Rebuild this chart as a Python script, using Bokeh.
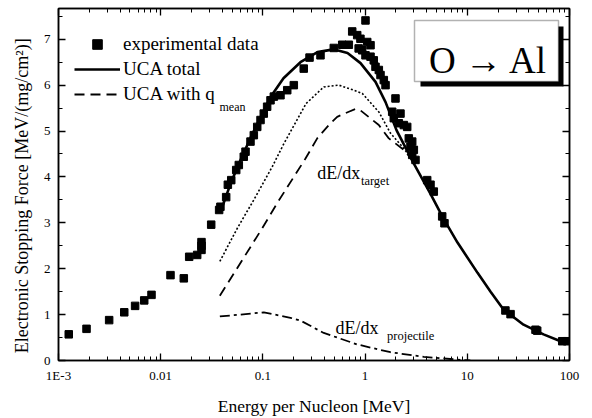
import math
from bokeh.plotting import figure
from bokeh.models import (Range1d, LinearAxis, LogAxis, FixedTicker, SingleIntervalTicker,
                          CustomJSTickFormatter, Legend, LegendItem, Label, BoxAnnotation)
from bokeh.embed import file_html
from bokeh.resources import INLINE

# ---------------- data ----------------
exp_energy = [0.00126, 0.00188, 0.00313, 0.0044, 0.00562, 0.0069, 0.00813, 0.01247, 0.01683, 0.019,
              0.02275, 0.02507, 0.0251, 0.02507, 0.0312, 0.0373, 0.0384, 0.0437, 0.0454, 0.049,
              0.0548, 0.0581, 0.065, 0.0676, 0.0756, 0.0815, 0.088, 0.0948, 0.102, 0.110,
              0.1187, 0.128, 0.1486, 0.173, 0.2006, 0.251, 0.286, 0.366, 0.494, 0.597,
              0.693, 0.748, 0.837, 1.009, 0.90, 0.865, 0.937, 1.049, 1.13, 1.009,
              1.13, 1.216, 1.264, 1.362, 1.415, 1.524, 1.585, 1.983, 1.841, 2.219,
              1.909, 2.137, 2.393, 2.582, 2.677, 2.89, 2.78, 2.998, 2.89, 3.112,
              4.05, 4.365, 4.70, 5.68, 5.98, 23.6, 26.5, 46.5, 48.3, 84.9, 94.9]
exp_stopping = [0.57, 0.69, 0.88, 1.05, 1.19, 1.31, 1.43, 1.86, 1.79, 2.26,
                2.30, 2.41, 2.50, 2.58, 2.96, 3.28, 3.35, 3.56, 3.83, 3.93,
                4.15, 4.26, 4.44, 4.55, 4.77, 4.91, 5.09, 5.24, 5.38, 5.53,
                5.67, 5.75, 5.78, 5.89, 6.00, 6.36, 6.60, 6.65, 6.81, 6.88,
                6.88, 7.17, 7.09, 7.41, 7.01, 6.80, 6.76, 6.94, 6.87, 6.65,
                6.62, 6.54, 6.40, 6.33, 6.22, 6.11, 6.00, 5.71, 5.42, 5.38,
                5.28, 5.17, 5.13, 5.09, 4.84, 4.77, 4.66, 4.59, 4.48, 4.37,
                3.93, 3.83, 3.68, 3.14, 2.99, 1.09, 1.01, 0.67, 0.65, 0.42, 0.42]

uca_total_energy = [0.0385, 0.0482, 0.0604, 0.0756, 0.0948, 0.1187, 0.159, 0.233, 0.342, 0.491,
                    0.673, 0.902, 1.264, 1.585, 2.028, 2.98, 4.365, 5.85, 8.02, 12.6,
                    16.9, 22.6, 35.5, 55.7, 81.7, 100.0]
uca_total_stopping = [3.24, 3.85, 4.37, 4.85, 5.30, 5.74, 6.15, 6.50, 6.72, 6.78,
                      6.70, 6.48, 6.07, 5.63, 5.02, 4.30, 3.63, 3.09, 2.57, 1.91,
                      1.50, 1.11, 0.78, 0.57, 0.42, 0.37]

dotted_energy = [0.0379, 0.0561, 0.0815, 0.1233, 0.160, 0.265, 0.394, 0.553, 0.775, 0.937,
                 1.37, 1.774, 2.393, 3.11]
dotted_stopping = [2.16, 2.88, 3.50, 4.22, 4.72, 5.60, 5.96, 6.00, 5.89, 5.82,
                   5.41, 4.95, 4.62, 4.28]

qmean_energy = [0.0379, 0.0984, 0.138, 0.261, 0.340, 0.442, 0.533, 0.693, 0.805, 0.90,
                1.362, 1.706, 2.39, 3.11]
qmean_stopping = [1.41, 2.88, 3.43, 4.40, 4.84, 5.13, 5.31, 5.42, 5.48, 5.45,
                  5.13, 4.84, 4.59, 4.28]

proj_energy = [0.0379, 0.0604, 0.102, 0.186, 0.233, 0.394, 0.837, 1.774, 3.75, 7.96, 10.7]
proj_stopping = [0.96, 1.00, 1.05, 0.93, 0.87, 0.60, 0.35, 0.18, 0.08, 0.02, 0.0]

x_ticks = [0.001, 0.01, 0.1, 1, 10, 100]
x_tick_labels = ["1E-3", "0.01", "0.1", "1", "10", "100"]
x_minor_ticks = [k * d for d in [0.001, 0.01, 0.1, 1, 10] for k in range(2, 10)]

FONT = "Liberation Serif"

# ---------------- figure ----------------
p = figure(width=592, height=418, x_axis_type="log",
           x_range=Range1d(1e-3, 100), y_range=Range1d(0, 7.67),
           output_backend="svg", toolbar_location=None,
           min_border_left=58, min_border_right=23, min_border_top=8, min_border_bottom=57,
           background_fill_color="white", border_fill_color="white")
p.xgrid.visible = False
p.ygrid.visible = False
p.outline_line_color = "black"
p.outline_line_width = 1.5

blank = CustomJSTickFormatter(code="return '';")


def style_axis(ax, show_labels=True):
    ax.axis_line_color = "black"
    ax.axis_line_width = 1.5
    ax.major_tick_in = 7
    ax.major_tick_out = 0
    ax.minor_tick_in = 4
    ax.minor_tick_out = 0
    ax.major_tick_line_color = "black"
    ax.minor_tick_line_color = "black"
    ax.major_tick_line_width = 1.3
    ax.minor_tick_line_width = 1.0
    ax.major_label_text_font = FONT
    ax.major_label_text_color = "black"
    ax.major_label_text_font_size = "13px"
    if not show_labels:
        ax.formatter = blank
        ax.major_label_standoff = 0
        ax.major_label_text_font_size = "1px"


xformatter = CustomJSTickFormatter(
    args=dict(tvals=x_ticks, tlabs=x_tick_labels),
    code="""
    for (let i = 0; i < tvals.length; i++) {
        if (Math.abs(Math.log10(tvals[i]) - Math.log10(tick)) < 1e-6) return tlabs[i];
    }
    return '';
    """)

xa = p.xaxis[0]
xa.ticker = FixedTicker(ticks=x_ticks, minor_ticks=x_minor_ticks)
xa.formatter = xformatter
style_axis(xa)
xa.major_label_standoff = 7
xa.axis_label = "Energy per Nucleon [MeV]"
xa.axis_label_text_font = FONT
xa.axis_label_text_font_size = "17.5px"
xa.axis_label_text_font_style = "normal"
xa.axis_label_text_color = "black"
xa.axis_label_standoff = 10

ya = p.yaxis[0]
ya.ticker = SingleIntervalTicker(interval=1, num_minor_ticks=2)
style_axis(ya)
ya.major_label_standoff = 8
ya.axis_label = "Electronic Stopping Force [MeV/(mg/cm\u00b2)]" + "\u00a0" * 5
ya.axis_label_text_font = FONT
ya.axis_label_text_font_size = "18px"
ya.axis_label_text_font_style = "normal"
ya.axis_label_text_color = "black"
ya.axis_label_standoff = 9

top = LogAxis(ticker=FixedTicker(ticks=x_ticks, minor_ticks=x_minor_ticks))
style_axis(top, show_labels=False)
p.add_layout(top, "above")

right = LinearAxis(ticker=SingleIntervalTicker(interval=1, num_minor_ticks=2))
style_axis(right, show_labels=False)
p.add_layout(right, "right")

# ---------------- glyphs ----------------
sc = p.scatter(exp_energy, exp_stopping, marker="square", size=7.5,
               fill_color="black", line_color="black")
tot = p.line(uca_total_energy, uca_total_stopping, line_color="black", line_width=2.6)
dot = p.line(dotted_energy, dotted_stopping, line_color="black", line_width=1.6, line_dash="2 2")
qm = p.line(qmean_energy, qmean_stopping, line_color="black", line_width=1.8, line_dash="10 6")
pr = p.line(proj_energy, proj_stopping, line_color="black", line_width=1.8, line_dash="10 4 3 4")

legend = Legend(items=[LegendItem(label="experimental data", renderers=[sc]),
                       LegendItem(label="UCA total", renderers=[tot]),
                       LegendItem(label="UCA with q", renderers=[qm])],
                location=(16, 254), label_text_font=FONT, label_text_font_size="19px",
                label_text_color="black",
                glyph_width=46, glyph_height=24, label_height=24, label_standoff=3,
                spacing=1, padding=0, margin=0, border_line_color=None,
                background_fill_alpha=0)
p.add_layout(legend)

p.add_layout(Label(x=161, y=254, x_units="screen", y_units="screen", text="mean",
                   text_font=FONT, text_font_size="12px", text_color="black",
                   text_baseline="alphabetic"))

# curve labels
p.add_layout(Label(x=0.34, y=4.08, text="dE/dx", text_font=FONT, text_font_size="18px",
                   text_color="black", text_baseline="alphabetic"))
p.add_layout(Label(x=0.91, y=3.92, text="target", text_font=FONT, text_font_size="12.5px",
                   text_color="black", text_baseline="alphabetic"))
p.add_layout(Label(x=0.513, y=0.71, text="dE/dx", text_font=FONT, text_font_size="18px",
                   text_color="black", text_baseline="alphabetic"))
p.add_layout(Label(x=1.64, y=0.54, text="projectile", text_font=FONT, text_font_size="12.5px",
                   text_color="black", text_baseline="alphabetic"))

# O -> Al box with shadow
p.add_layout(BoxAnnotation(left=362, right=505, bottom=274, top=334,
                           left_units="screen", right_units="screen",
                           bottom_units="screen", top_units="screen",
                           fill_color="black", fill_alpha=1.0, line_color=None))
p.add_layout(BoxAnnotation(left=356, right=500, bottom=279, top=340,
                           left_units="screen", right_units="screen",
                           bottom_units="screen", top_units="screen",
                           fill_color="white", fill_alpha=1.0, line_color="black", line_width=1.5))
p.add_layout(Label(x=430, y=300, x_units="screen", y_units="screen", text="O \u2192 Al",
                   text_align="center", text_baseline="alphabetic", text_font=FONT,
                   text_font_size="37px", text_color="black"))

open("out.html", "w").write(file_html(p, INLINE))
